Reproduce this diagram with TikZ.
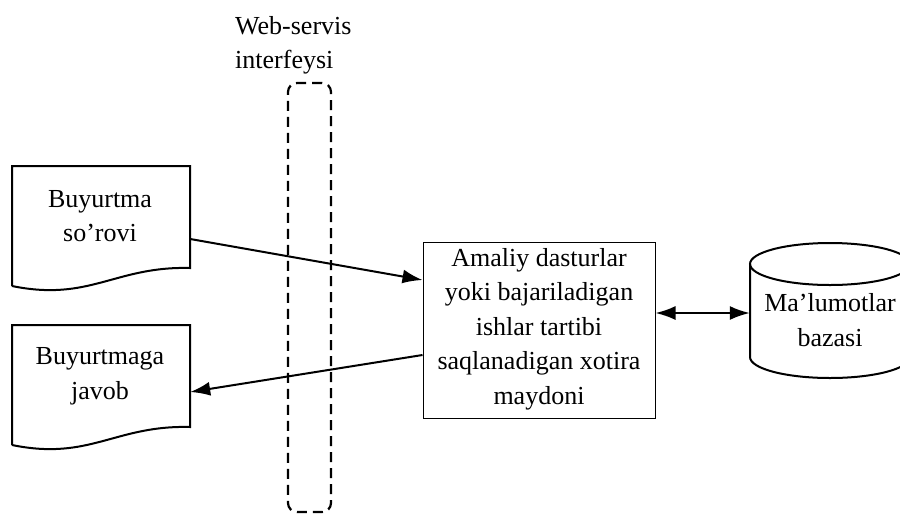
\documentclass[tikz,border=0pt]{standalone}
\usepackage{fontspec}
\setmainfont{Liberation Serif}
\usetikzlibrary{arrows.meta}
\begin{document}
\begin{tikzpicture}[x=1pt,y=-1pt,
  txt/.style={font=\fontsize{26}{34.5}\selectfont, align=center, inner sep=0pt},
  docline/.style={line width=2pt, line join=miter},
  arr/.style={line width=2pt, -{Latex[length=20pt,width=14pt]}},
  darr/.style={line width=2pt, {Latex[length=20pt,width=14pt]}-{Latex[length=20pt,width=14pt]}},
  iface/.style={line width=2.2pt, dash pattern=on 10pt off 6pt, rounded corners=9pt}]
\useasboundingbox (0,0) rectangle (900,515);
\clip (0,0) rectangle (900,515);
% document 1
\node[minimum width=178pt, minimum height=120pt, inner sep=0pt] (d1) at (101,226) {};
\draw[docline] (12,286) -- (12,166) -- (190,166) -- (190,268)
  .. controls (115,266) and (90,302) .. (12,286);
\node[txt] (t1) at (100,216) {Buyurtma\\so’rovi};
% document 2
\node[minimum width=178pt, minimum height=120pt, inner sep=0pt] (d2) at (101,385) {};
\draw[docline] (12,445) -- (12,325) -- (190,325) -- (190,427)
  .. controls (115,425) and (90,461) .. (12,445);
\node[txt] (t2) at (100,376) {Buyurtmaga\\javob};
% web-service interface
\node[iface, draw, minimum width=43pt, minimum height=429pt, inner sep=0pt] (ws) at (309.5,297.5) {};
\node[txt, align=left, anchor=north west] (wsl) at (235,16) {Web-servis\\interfeysi};
% central box
\node[draw, line width=1pt, minimum width=232pt, minimum height=176pt, inner sep=0pt] (box) at (539,330) {};
\node[txt] (boxt) at (539,329) {Amaliy dasturlar\\yoki bajariladigan\\ishlar tartibi\\saqlanadigan xotira\\maydoni};
% database cylinder
\node[minimum width=160pt, minimum height=136pt, inner sep=0pt] (db) at (830,310) {};
\draw[line width=2pt] (750,264) -- (750,357) arc[start angle=180, end angle=360, x radius=80, y radius=-21]
  -- (910,264);
\draw[line width=2pt] (830,264) ellipse [x radius=80, y radius=21];
\node[txt] (dbt) at (830,320) {Ma’lumotlar\\bazasi};
% connectors
\draw[arr] ([yshift=-13pt]d1.east) -- ([yshift=50pt]box.west);
\draw[arr] ([yshift=-25pt]box.west) -- ([yshift=-7pt]d2.east);
\draw[darr] ([yshift=17pt]box.east) -- ([yshift=-3pt]db.west);
\end{tikzpicture}
\end{document}
